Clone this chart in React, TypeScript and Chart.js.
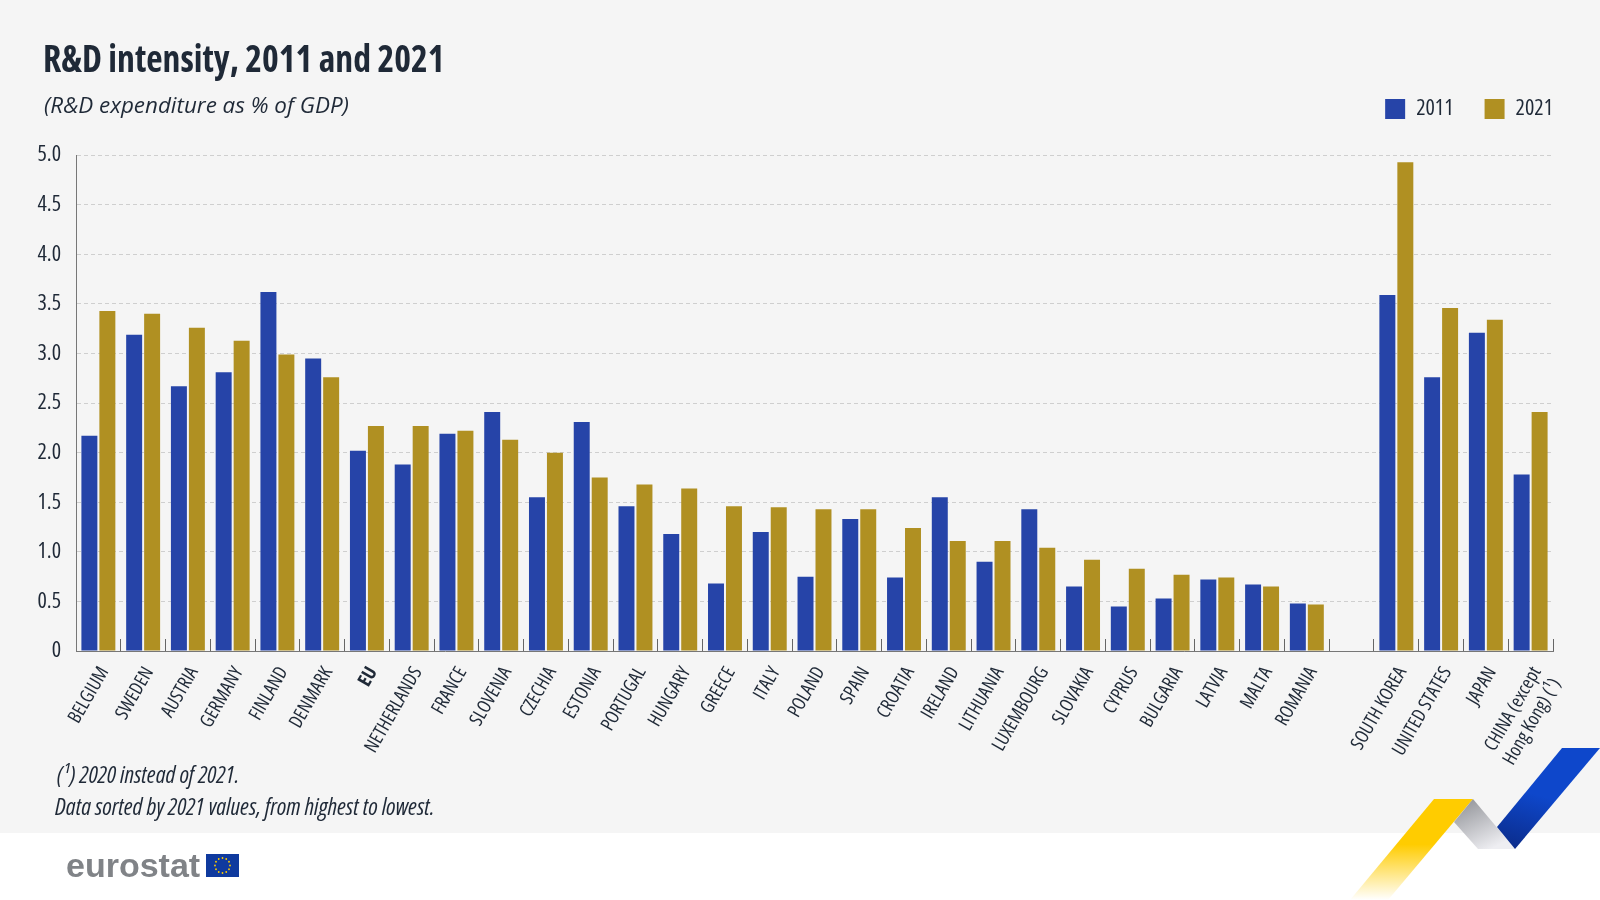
import { useEffect, useRef } from "react"
import { Chart, registerables } from "chart.js"

Chart.register(...registerables)

const FONT = '"Open Sans", sans-serif'

const categories: (string | string[])[] = [
  "BELGIUM", "SWEDEN", "AUSTRIA", "GERMANY", "FINLAND", "DENMARK", "EU", "NETHERLANDS",
  "FRANCE", "SLOVENIA", "CZECHIA", "ESTONIA", "PORTUGAL", "HUNGARY", "GREECE", "ITALY",
  "POLAND", "SPAIN", "CROATIA", "IRELAND", "LITHUANIA", "LUXEMBOURG", "SLOVAKIA", "CYPRUS",
  "BULGARIA", "LATVIA", "MALTA", "ROMANIA", "",
  "SOUTH KOREA", "UNITED STATES", "JAPAN", ["CHINA (except", "Hong Kong) (¹)"],
]

const values2011 = [
  2.17, 3.19, 2.67, 2.81, 3.62, 2.95, 2.02, 1.88,
  2.19, 2.41, 1.55, 2.31, 1.46, 1.18, 0.68, 1.2,
  0.75, 1.33, 0.74, 1.55, 0.9, 1.43, 0.65, 0.45,
  0.53, 0.72, 0.67, 0.48, null,
  3.59, 2.76, 3.21, 1.78,
]

const values2021 = [
  3.43, 3.4, 3.26, 3.13, 2.99, 2.76, 2.27, 2.27,
  2.22, 2.13, 2.0, 1.75, 1.68, 1.64, 1.46, 1.45,
  1.43, 1.43, 1.24, 1.11, 1.11, 1.04, 0.92, 0.83,
  0.77, 0.74, 0.65, 0.47, null,
  4.93, 3.46, 3.34, 2.41,
]

const TEXT = "#1f2937"

export default function App() {
  const chartRef = useRef<HTMLCanvasElement>(null)

  useEffect(() => {
    if (!chartRef.current) return
    const chart = new Chart(chartRef.current, {
      type: "bar",
      data: {
        labels: categories,
        datasets: [
          { label: "2011", data: values2011, backgroundColor: "#2644a8", categoryPercentage: 0.803, barPercentage: 0.889 },
          { label: "2021", data: values2021, backgroundColor: "#b09022", categoryPercentage: 0.803, barPercentage: 0.889 },
        ],
      },
      options: {
        responsive: false,
        animation: false,
        layout: { padding: { top: 67, right: 16, left: 0, bottom: 0 } },
        plugins: {
          tooltip: { enabled: false },
          // empty title, only keeps a gap between the legend and the plot
          title: {
            display: true,
            text: "",
            weight: 100,
            font: { size: 1 },
            padding: { top: 0, bottom: 24 },
          } as any,
          legend: {
            position: "top",
            align: "end",
            labels: {
              boxWidth: 20,
              boxHeight: 20,
              padding: 31,
              color: TEXT,
              font: { family: FONT, size: 22, weight: "condensed" as any },
            },
          },
        },
        scales: {
          x: {
            grid: { drawOnChartArea: false, tickLength: -12, color: "#666666" },
            border: { color: "#777777" },
            ticks: {
              color: TEXT,
              padding: 24,
              labelOffset: 6,
              minRotation: 60,
              maxRotation: 60,
              autoSkip: false,
              font: (ctx: any) => ({
                family: FONT,
                size: 19,
                weight: ctx.index === 6 ? "bold condensed" : "condensed",
              }),
            },
            afterFit: (scale: any) => {
              scale.height = 249
            },
          },
          y: {
            min: 0,
            max: 5,
            grid: { color: "#cfcfcf", drawTicks: false },
            border: { color: "#777777", dash: [4, 3] },
            ticks: {
              stepSize: 0.5,
              color: TEXT,
              padding: 15,
              font: { family: FONT, size: 22, weight: "condensed" as any },
              callback: (v: any) => (Number(v) === 0 ? "0" : Number(v).toFixed(1)),
            },
            afterFit: (scale: any) => {
              scale.width = 76
            },
          },
          // blank axis on the right: the legend runs past the plot by its item padding
          yRight: {
            position: "right",
            grid: { display: false },
            border: { display: false },
            ticks: { display: false },
            afterFit: (scale: any) => {
              scale.width = 31
            },
          },
        },
      },
    })
    return () => chart.destroy()
  }, [])

  return (
    <div style={{ position: "fixed", left: 0, top: 0, width: 1600, height: 900, background: "#ffffff", overflow: "hidden" }}>
      <div style={{ position: "absolute", left: 0, top: 0, width: 1600, height: 833, background: "#f5f5f5" }} />
      <svg width={1600} height={900} style={{ position: "absolute", left: 0, top: 0 }}>
        <defs>
          <linearGradient id="yellow" x1="0" y1="1" x2="0" y2="0">
            <stop offset="0" stopColor="#ffcc00" stopOpacity="0" />
            <stop offset="0.55" stopColor="#ffcc00" />
          </linearGradient>
          <linearGradient id="grey" x1="0" y1="0" x2="0.6" y2="1">
            <stop offset="0" stopColor="#8b8d92" />
            <stop offset="1" stopColor="#eeeef2" />
          </linearGradient>
          <linearGradient id="blue" x1="0" y1="1" x2="0.3" y2="0">
            <stop offset="0" stopColor="#0b2a86" />
            <stop offset="0.6" stopColor="#0e47cb" />
          </linearGradient>
        </defs>
        <polygon points="1434,799 1473,799 1388,900 1350,900" fill="url(#yellow)" />
        <polygon points="1473,799 1515,849 1478,849 1454,822" fill="url(#grey)" />
        <polygon points="1562,748 1600,748 1515,849 1497,827" fill="url(#blue)" />
        <rect x={206} y={854} width={33} height={23} fill="#0f3a9e" />
        {Array.from({ length: 12 }).map((_, i) => (
          <circle
            key={i}
            cx={222.5 + 7.5 * Math.cos((i * Math.PI) / 6)}
            cy={865.5 + 7.5 * Math.sin((i * Math.PI) / 6)}
            r={0.9}
            fill="#ffcc00"
          />
        ))}
      </svg>
      <canvas ref={chartRef} width={1600} height={900} style={{ position: "absolute", left: 0, top: 0 }} />
      <div style={{ position: "absolute", left: 43, top: 31, color: TEXT, fontFamily: FONT, fontSize: 38, fontWeight: 700, fontStretch: "75%", whiteSpace: "nowrap", transform: "scaleX(0.94)", transformOrigin: "left center" }}>
        R&amp;D intensity, 2011 and 2021
      </div>
      <div style={{ position: "absolute", left: 44, top: 89, color: TEXT, fontFamily: FONT, fontSize: 22.4, fontStyle: "italic", whiteSpace: "nowrap" }}>
        (R&amp;D expenditure as % of GDP)
      </div>
      <div style={{ position: "absolute", left: 57, top: 758, color: TEXT, fontFamily: FONT, fontSize: 23.6, fontStyle: "italic", fontStretch: "75%", whiteSpace: "nowrap" }}>
        (¹) 2020 instead of 2021.
      </div>
      <div style={{ position: "absolute", left: 55, top: 790, color: TEXT, fontFamily: FONT, fontSize: 23.6, fontStyle: "italic", fontStretch: "75%", whiteSpace: "nowrap" }}>
        Data sorted by 2021 values, from highest to lowest.
      </div>
      <div style={{ position: "absolute", left: 66, top: 846, color: "#808387", font: 'bold 34px "Liberation Sans", sans-serif', whiteSpace: "nowrap" }}>
        eurostat
      </div>
    </div>
  )
}
